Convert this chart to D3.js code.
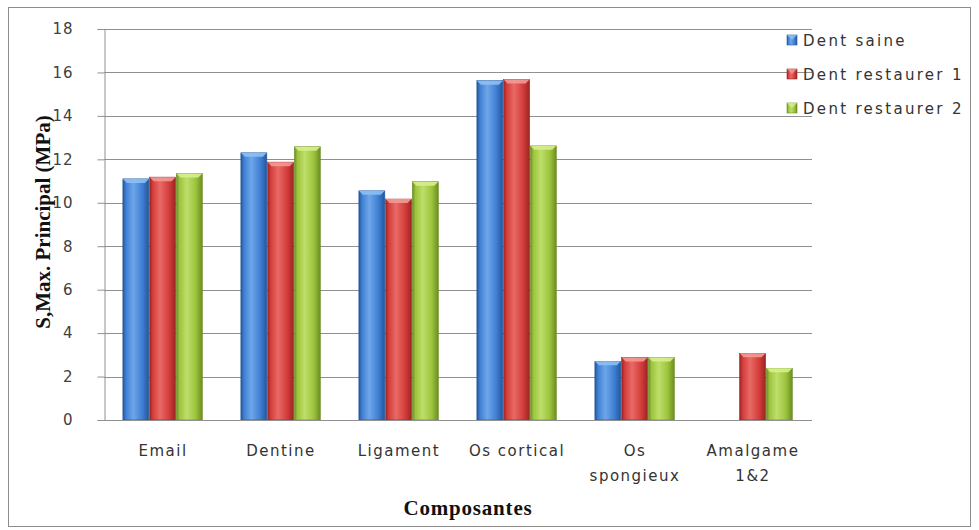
<!DOCTYPE html>
<html><head><meta charset="utf-8">
<script src="https://cdn.jsdelivr.net/npm/d3@7"></script>
<style>html,body{margin:0;padding:0;background:#fff;}svg{display:block;}</style>
</head><body>
<svg id="chart" width="979" height="530"></svg>
<script>
const categories = ["Email", "Dentine", "Ligament", "Os cortical", "Os spongieux", "Amalgame 1&2"];
const categoryLines = [["Email"], ["Dentine"], ["Ligament"], ["Os cortical"], ["Os", "spongieux"], ["Amalgame", "1&2"]];
const seriesNames = ["Dent saine", "Dent restaurer 1", "Dent restaurer 2"];
const dentSaine = [11.1, 12.3, 10.55, 15.62, 2.7, null];
const dentRestaurer1 = [11.18, 11.87, 10.17, 15.67, 2.88, 3.07];
const dentRestaurer2 = [11.35, 12.58, 10.97, 12.62, 2.88, 2.38];
const yTicks = [0, 2, 4, 6, 8, 10, 12, 14, 16, 18];
const yTitle = "S,Max. Principal (MPa)";
const xTitle = "Composantes";

const seriesValues = [dentSaine, dentRestaurer1, dentRestaurer2];
const palette = [
  {main: "#3f7fd2", light: "#6fa6ea", dark: "#24569a", top: "#8cc0f5"},
  {main: "#d43d3b", light: "#e86a66", dark: "#9c2423", top: "#f29a94"},
  {main: "#9cc43c", light: "#bede6a", dark: "#6c8c22", top: "#d6ef8c"}
];

const svg = d3.select("#chart");
const defs = svg.append("defs");
palette.forEach((p, i) => {
  const g = defs.append("linearGradient").attr("id", "g" + i).attr("x1", "0").attr("x2", "1").attr("y1", "0").attr("y2", "0");
  g.append("stop").attr("offset", "0").attr("stop-color", p.dark);
  g.append("stop").attr("offset", "0.12").attr("stop-color", p.main);
  g.append("stop").attr("offset", "0.4").attr("stop-color", p.light);
  g.append("stop").attr("offset", "0.75").attr("stop-color", p.main);
  g.append("stop").attr("offset", "1").attr("stop-color", p.dark);
});

// outer border
svg.append("rect").attr("x", 8.5).attr("y", 7.5).attr("width", 962).attr("height", 519)
  .attr("fill", "none").attr("stroke", "#8c8c8c").attr("stroke-width", 1);

const plotLeft = 104, plotRight = 812, plotTop = 29, plotBottom = 420;
const x = d3.scaleBand().domain(categories).range([plotLeft, plotRight]).paddingInner(0.32).paddingOuter(0.16);
const xs = d3.scaleBand().domain(seriesNames).range([0, x.bandwidth()]).padding(0);
const y = d3.scaleLinear().domain([0, 18]).range([plotBottom, plotTop]);

const sansFont = "'DejaVu Sans', Verdana, sans-serif";
const serifFont = "'Liberation Serif', 'Times New Roman', serif";

// gridlines
svg.append("g").selectAll("line").data(yTicks).join("line")
  .attr("x1", plotLeft).attr("x2", plotRight)
  .attr("y1", d => Math.round(y(d)) + 0.5).attr("y2", d => Math.round(y(d)) + 0.5)
  .attr("stroke", "#909090").attr("stroke-width", 1);

// y axis
const yAxis = svg.append("g").attr("transform", `translate(${plotLeft + 0.5},0)`)
  .call(d3.axisLeft(y).tickValues(yTicks).tickSize(7).tickPadding(24).tickFormat(d3.format("d")));
yAxis.select(".domain").attr("stroke", "#909090");
yAxis.selectAll(".tick line").attr("stroke", "#909090");
yAxis.selectAll(".tick text").attr("fill", "#404040").attr("font-family", sansFont)
  .attr("font-size", 15).attr("letter-spacing", "1px");

// bars
const data = [];
categories.forEach((c, ci) => seriesNames.forEach((s, si) => {
  const v = seriesValues[si][ci];
  if (v !== null && v !== undefined) data.push({c, s, si, v});
}));
const bars = svg.append("g").selectAll("g").data(data).join("g");
bars.append("rect")
  .attr("x", d => x(d.c) + xs(d.s))
  .attr("y", d => y(d.v))
  .attr("width", xs.bandwidth() - 0.8)
  .attr("height", d => y(0) - y(d.v))
  .attr("fill", d => `url(#g${d.si})`)
  .attr("stroke", d => palette[d.si].dark).attr("stroke-width", 0.6);
// top bevel
bars.append("path")
  .attr("d", d => {
    const x0 = x(d.c) + xs(d.s), w = xs.bandwidth() - 0.8, y0 = y(d.v);
    return `M${x0},${y0} L${x0 + w},${y0} L${x0 + w - 4},${y0 + 4} L${x0 + 4},${y0 + 4} Z`;
  })
  .attr("fill", d => palette[d.si].top).attr("opacity", 0.9);

// x axis baseline
svg.append("line").attr("x1", plotLeft).attr("x2", plotRight).attr("y1", plotBottom + 0.5).attr("y2", plotBottom + 0.5)
  .attr("stroke", "#909090");

// x labels
const xl = svg.append("g").selectAll("text").data(categories).join("text")
  .attr("x", d => x(d) + x.bandwidth() / 2)
  .attr("y", 456)
  .attr("text-anchor", "middle").attr("fill", "#333")
  .attr("font-family", sansFont).attr("font-size", 15).attr("letter-spacing", "1.5px");
xl.each(function(d, i) {
  const t = d3.select(this);
  categoryLines[i].forEach((ln, li) => {
    t.append("tspan").attr("x", x(d) + x.bandwidth() / 2).attr("dy", li === 0 ? 0 : 25).text(ln);
  });
});

// titles
svg.append("text").attr("transform", "translate(50,222) rotate(-90)")
  .attr("text-anchor", "middle").attr("font-family", serifFont).attr("font-weight", "bold")
  .attr("font-size", 21).attr("fill", "#111").text(yTitle);
svg.append("text").attr("x", 468).attr("y", 515)
  .attr("text-anchor", "middle").attr("font-family", serifFont).attr("font-weight", "bold")
  .attr("font-size", 21).attr("letter-spacing", "0.8px").attr("fill", "#111").text(xTitle);

// legend
const lg = svg.append("g").selectAll("g").data(seriesNames).join("g")
  .attr("transform", (d, i) => `translate(787,${40 + i * 34})`);
lg.append("rect").attr("x", 0).attr("y", -5).attr("width", 10).attr("height", 10)
  .attr("fill", (d, i) => `url(#g${i})`).attr("stroke", (d, i) => palette[i].dark).attr("stroke-width", 0.6);
lg.append("path").attr("d", "M0,-5 L10,-5 L5,0 Z").attr("fill", (d, i) => palette[i].top).attr("opacity", 0.8);
lg.append("text").attr("x", 16).attr("y", 5.5).attr("fill", "#333")
  .attr("font-family", sansFont).attr("font-size", 15).attr("letter-spacing", "2.3px").text(d => d);
</script>
</body></html>
